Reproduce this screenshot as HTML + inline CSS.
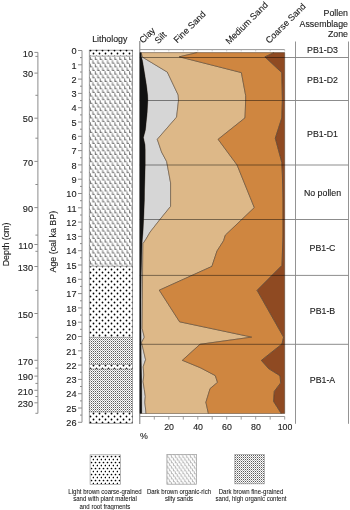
<!DOCTYPE html><html><head><meta charset="utf-8"><style>
html,body{margin:0;padding:0;background:#fff;}
body{width:350px;height:510px;overflow:hidden;position:relative;}
svg{position:absolute;left:0;top:0;will-change:transform;}
text{font-family:"Liberation Sans", sans-serif;fill:#1a1a1a;stroke:#1a1a1a;stroke-width:0.12px;}
</style></head><body>
<svg width="350" height="510" viewBox="0 0 350 510">
<defs>
<pattern id="pdot" patternUnits="userSpaceOnUse" width="6" height="6" x="90" y="50"><circle cx="0.5" cy="0.5" r="0.88" fill="#000"/><circle cx="6.5" cy="0.5" r="0.88" fill="#000"/><circle cx="0.5" cy="6.5" r="0.88" fill="#000"/><circle cx="6.5" cy="6.5" r="0.88" fill="#000"/><circle cx="3.5" cy="3.5" r="0.88" fill="#000"/></pattern>
<pattern id="pdotl" patternUnits="userSpaceOnUse" width="4" height="6" x="90" y="455"><circle cx="1.5" cy="1.5" r="0.85" fill="#000"/><circle cx="3.5" cy="4.5" r="0.85" fill="#000"/></pattern>
<pattern id="pL" patternUnits="userSpaceOnUse" width="4.9" height="7.3" x="89.9" y="56.4"><path d="M-4.40,-7.10 V-4.20 H-2.50 M-4.40,0.20 V3.10 H-2.50 M-4.40,7.50 V10.40 H-2.50 M0.50,-7.10 V-4.20 H2.40 M0.50,0.20 V3.10 H2.40 M0.50,7.50 V10.40 H2.40 M5.40,-7.10 V-4.20 H7.30 M5.40,0.20 V3.10 H7.30 M5.40,7.50 V10.40 H7.30 M-1.95,-3.45 V-0.55 H-0.05 M-1.95,3.85 V6.75 H-0.05 M-1.95,11.15 V14.05 H-0.05 M2.95,-3.45 V-0.55 H4.85 M2.95,3.85 V6.75 H4.85 M2.95,11.15 V14.05 H4.85 M7.85,-3.45 V-0.55 H9.75 M7.85,3.85 V6.75 H9.75 M7.85,11.15 V14.05 H9.75" stroke="#747474" stroke-width="1" fill="none"/></pattern>
<pattern id="pF" patternUnits="userSpaceOnUse" width="2" height="2" x="89" y="337"><rect x="0" y="0" width="1" height="1" fill="#5a5a5a"/><rect x="1" y="1" width="1" height="1" fill="#b0b0b0"/></pattern>
<pattern id="pL2" patternUnits="userSpaceOnUse" width="3.8" height="5.4" x="167.3" y="455"><path d="M0.4,0.2 V2.5 H1.9 M2.3,2.9 V5.2 H3.8 M2.3,-2.5 V-0.2 H3.8 M4.2,0.2 V2.5 H5.7 M0.4,5.6 V7.9 H1.9" stroke="#9a9a9a" stroke-width="0.75" fill="none"/></pattern>
</defs>
<line x1="37.9" y1="52.4" x2="37.9" y2="413.3" stroke="#8c8c8c" stroke-width="1"/>
<line x1="34.4" y1="52.4" x2="37.9" y2="52.4" stroke="#8c8c8c" stroke-width="1"/>
<text x="33" y="53.6" font-size="9.2" text-anchor="end" dominant-baseline="central">10</text>
<line x1="34.4" y1="73.1" x2="37.9" y2="73.1" stroke="#8c8c8c" stroke-width="1"/>
<text x="33" y="74.3" font-size="9.2" text-anchor="end" dominant-baseline="central">30</text>
<line x1="34.4" y1="118.2" x2="37.9" y2="118.2" stroke="#8c8c8c" stroke-width="1"/>
<text x="33" y="119.4" font-size="9.2" text-anchor="end" dominant-baseline="central">50</text>
<line x1="34.4" y1="161.4" x2="37.9" y2="161.4" stroke="#8c8c8c" stroke-width="1"/>
<text x="33" y="162.6" font-size="9.2" text-anchor="end" dominant-baseline="central">70</text>
<line x1="34.4" y1="207.6" x2="37.9" y2="207.6" stroke="#8c8c8c" stroke-width="1"/>
<text x="33" y="208.8" font-size="9.2" text-anchor="end" dominant-baseline="central">90</text>
<line x1="34.4" y1="244.5" x2="37.9" y2="244.5" stroke="#8c8c8c" stroke-width="1"/>
<text x="33" y="245.7" font-size="9.2" text-anchor="end" dominant-baseline="central">110</text>
<line x1="34.4" y1="266.5" x2="37.9" y2="266.5" stroke="#8c8c8c" stroke-width="1"/>
<text x="33" y="267.7" font-size="9.2" text-anchor="end" dominant-baseline="central">130</text>
<line x1="34.4" y1="313.5" x2="37.9" y2="313.5" stroke="#8c8c8c" stroke-width="1"/>
<text x="33" y="314.7" font-size="9.2" text-anchor="end" dominant-baseline="central">150</text>
<line x1="34.4" y1="360.3" x2="37.9" y2="360.3" stroke="#8c8c8c" stroke-width="1"/>
<text x="33" y="361.5" font-size="9.2" text-anchor="end" dominant-baseline="central">170</text>
<line x1="34.4" y1="376.1" x2="37.9" y2="376.1" stroke="#8c8c8c" stroke-width="1"/>
<text x="33" y="377.3" font-size="9.2" text-anchor="end" dominant-baseline="central">190</text>
<line x1="34.4" y1="390.3" x2="37.9" y2="390.3" stroke="#8c8c8c" stroke-width="1"/>
<text x="33" y="391.5" font-size="9.2" text-anchor="end" dominant-baseline="central">210</text>
<line x1="34.4" y1="402.8" x2="37.9" y2="402.8" stroke="#8c8c8c" stroke-width="1"/>
<text x="33" y="404.0" font-size="9.2" text-anchor="end" dominant-baseline="central">230</text>
<line x1="35.4" y1="56.4" x2="37.9" y2="56.4" stroke="#8c8c8c" stroke-width="1"/>
<line x1="35.4" y1="95.3" x2="37.9" y2="95.3" stroke="#8c8c8c" stroke-width="1"/>
<line x1="35.4" y1="138.2" x2="37.9" y2="138.2" stroke="#8c8c8c" stroke-width="1"/>
<line x1="35.4" y1="184.5" x2="37.9" y2="184.5" stroke="#8c8c8c" stroke-width="1"/>
<line x1="35.4" y1="235.1" x2="37.9" y2="235.1" stroke="#8c8c8c" stroke-width="1"/>
<line x1="35.4" y1="251.3" x2="37.9" y2="251.3" stroke="#8c8c8c" stroke-width="1"/>
<line x1="35.4" y1="290.4" x2="37.9" y2="290.4" stroke="#8c8c8c" stroke-width="1"/>
<line x1="35.4" y1="337.4" x2="37.9" y2="337.4" stroke="#8c8c8c" stroke-width="1"/>
<line x1="35.4" y1="368.1" x2="37.9" y2="368.1" stroke="#8c8c8c" stroke-width="1"/>
<line x1="35.4" y1="383.4" x2="37.9" y2="383.4" stroke="#8c8c8c" stroke-width="1"/>
<line x1="35.4" y1="396.5" x2="37.9" y2="396.5" stroke="#8c8c8c" stroke-width="1"/>
<line x1="35.4" y1="413.3" x2="37.9" y2="413.3" stroke="#8c8c8c" stroke-width="1"/>
<text x="0" y="0" font-size="8.9" text-anchor="middle" dominant-baseline="central" transform="translate(5.7,244.4) rotate(-90)">Depth (cm)</text>
<line x1="82.0" y1="50.5" x2="82.0" y2="422.3" stroke="#8c8c8c" stroke-width="1"/>
<line x1="78.0" y1="50.5" x2="82.0" y2="50.5" stroke="#8c8c8c" stroke-width="1"/>
<text x="76.5" y="51.2" font-size="9.2" text-anchor="end" dominant-baseline="central">0</text>
<line x1="80.0" y1="57.6" x2="82.0" y2="57.6" stroke="#8c8c8c" stroke-width="1"/>
<line x1="78.0" y1="64.8" x2="82.0" y2="64.8" stroke="#8c8c8c" stroke-width="1"/>
<text x="76.5" y="65.5" font-size="9.2" text-anchor="end" dominant-baseline="central">1</text>
<line x1="80.0" y1="72.0" x2="82.0" y2="72.0" stroke="#8c8c8c" stroke-width="1"/>
<line x1="78.0" y1="79.1" x2="82.0" y2="79.1" stroke="#8c8c8c" stroke-width="1"/>
<text x="76.5" y="79.8" font-size="9.2" text-anchor="end" dominant-baseline="central">2</text>
<line x1="80.0" y1="86.2" x2="82.0" y2="86.2" stroke="#8c8c8c" stroke-width="1"/>
<line x1="78.0" y1="93.4" x2="82.0" y2="93.4" stroke="#8c8c8c" stroke-width="1"/>
<text x="76.5" y="94.1" font-size="9.2" text-anchor="end" dominant-baseline="central">3</text>
<line x1="80.0" y1="100.6" x2="82.0" y2="100.6" stroke="#8c8c8c" stroke-width="1"/>
<line x1="78.0" y1="107.7" x2="82.0" y2="107.7" stroke="#8c8c8c" stroke-width="1"/>
<text x="76.5" y="108.4" font-size="9.2" text-anchor="end" dominant-baseline="central">4</text>
<line x1="80.0" y1="114.9" x2="82.0" y2="114.9" stroke="#8c8c8c" stroke-width="1"/>
<line x1="78.0" y1="122.0" x2="82.0" y2="122.0" stroke="#8c8c8c" stroke-width="1"/>
<text x="76.5" y="122.7" font-size="9.2" text-anchor="end" dominant-baseline="central">5</text>
<line x1="80.0" y1="129.2" x2="82.0" y2="129.2" stroke="#8c8c8c" stroke-width="1"/>
<line x1="78.0" y1="136.3" x2="82.0" y2="136.3" stroke="#8c8c8c" stroke-width="1"/>
<text x="76.5" y="137.0" font-size="9.2" text-anchor="end" dominant-baseline="central">6</text>
<line x1="80.0" y1="143.5" x2="82.0" y2="143.5" stroke="#8c8c8c" stroke-width="1"/>
<line x1="78.0" y1="150.6" x2="82.0" y2="150.6" stroke="#8c8c8c" stroke-width="1"/>
<text x="76.5" y="151.3" font-size="9.2" text-anchor="end" dominant-baseline="central">7</text>
<line x1="80.0" y1="157.8" x2="82.0" y2="157.8" stroke="#8c8c8c" stroke-width="1"/>
<line x1="78.0" y1="164.9" x2="82.0" y2="164.9" stroke="#8c8c8c" stroke-width="1"/>
<text x="76.5" y="165.6" font-size="9.2" text-anchor="end" dominant-baseline="central">8</text>
<line x1="80.0" y1="172.1" x2="82.0" y2="172.1" stroke="#8c8c8c" stroke-width="1"/>
<line x1="78.0" y1="179.2" x2="82.0" y2="179.2" stroke="#8c8c8c" stroke-width="1"/>
<text x="76.5" y="179.9" font-size="9.2" text-anchor="end" dominant-baseline="central">9</text>
<line x1="80.0" y1="186.4" x2="82.0" y2="186.4" stroke="#8c8c8c" stroke-width="1"/>
<line x1="78.0" y1="193.5" x2="82.0" y2="193.5" stroke="#8c8c8c" stroke-width="1"/>
<text x="76.5" y="194.2" font-size="9.2" text-anchor="end" dominant-baseline="central">10</text>
<line x1="80.0" y1="200.7" x2="82.0" y2="200.7" stroke="#8c8c8c" stroke-width="1"/>
<line x1="78.0" y1="207.8" x2="82.0" y2="207.8" stroke="#8c8c8c" stroke-width="1"/>
<text x="76.5" y="208.5" font-size="9.2" text-anchor="end" dominant-baseline="central">11</text>
<line x1="80.0" y1="215.0" x2="82.0" y2="215.0" stroke="#8c8c8c" stroke-width="1"/>
<line x1="78.0" y1="222.1" x2="82.0" y2="222.1" stroke="#8c8c8c" stroke-width="1"/>
<text x="76.5" y="222.8" font-size="9.2" text-anchor="end" dominant-baseline="central">12</text>
<line x1="80.0" y1="229.3" x2="82.0" y2="229.3" stroke="#8c8c8c" stroke-width="1"/>
<line x1="78.0" y1="236.4" x2="82.0" y2="236.4" stroke="#8c8c8c" stroke-width="1"/>
<text x="76.5" y="237.1" font-size="9.2" text-anchor="end" dominant-baseline="central">13</text>
<line x1="80.0" y1="243.6" x2="82.0" y2="243.6" stroke="#8c8c8c" stroke-width="1"/>
<line x1="78.0" y1="250.7" x2="82.0" y2="250.7" stroke="#8c8c8c" stroke-width="1"/>
<text x="76.5" y="251.4" font-size="9.2" text-anchor="end" dominant-baseline="central">14</text>
<line x1="80.0" y1="257.8" x2="82.0" y2="257.8" stroke="#8c8c8c" stroke-width="1"/>
<line x1="78.0" y1="265.0" x2="82.0" y2="265.0" stroke="#8c8c8c" stroke-width="1"/>
<text x="76.5" y="265.7" font-size="9.2" text-anchor="end" dominant-baseline="central">15</text>
<line x1="80.0" y1="272.1" x2="82.0" y2="272.1" stroke="#8c8c8c" stroke-width="1"/>
<line x1="78.0" y1="279.3" x2="82.0" y2="279.3" stroke="#8c8c8c" stroke-width="1"/>
<text x="76.5" y="280.0" font-size="9.2" text-anchor="end" dominant-baseline="central">16</text>
<line x1="80.0" y1="286.4" x2="82.0" y2="286.4" stroke="#8c8c8c" stroke-width="1"/>
<line x1="78.0" y1="293.6" x2="82.0" y2="293.6" stroke="#8c8c8c" stroke-width="1"/>
<text x="76.5" y="294.3" font-size="9.2" text-anchor="end" dominant-baseline="central">17</text>
<line x1="80.0" y1="300.8" x2="82.0" y2="300.8" stroke="#8c8c8c" stroke-width="1"/>
<line x1="78.0" y1="307.9" x2="82.0" y2="307.9" stroke="#8c8c8c" stroke-width="1"/>
<text x="76.5" y="308.6" font-size="9.2" text-anchor="end" dominant-baseline="central">18</text>
<line x1="80.0" y1="315.1" x2="82.0" y2="315.1" stroke="#8c8c8c" stroke-width="1"/>
<line x1="78.0" y1="322.2" x2="82.0" y2="322.2" stroke="#8c8c8c" stroke-width="1"/>
<text x="76.5" y="322.9" font-size="9.2" text-anchor="end" dominant-baseline="central">19</text>
<line x1="80.0" y1="329.3" x2="82.0" y2="329.3" stroke="#8c8c8c" stroke-width="1"/>
<line x1="78.0" y1="336.5" x2="82.0" y2="336.5" stroke="#8c8c8c" stroke-width="1"/>
<text x="76.5" y="337.2" font-size="9.2" text-anchor="end" dominant-baseline="central">20</text>
<line x1="80.0" y1="343.6" x2="82.0" y2="343.6" stroke="#8c8c8c" stroke-width="1"/>
<line x1="78.0" y1="350.8" x2="82.0" y2="350.8" stroke="#8c8c8c" stroke-width="1"/>
<text x="76.5" y="351.5" font-size="9.2" text-anchor="end" dominant-baseline="central">21</text>
<line x1="80.0" y1="357.9" x2="82.0" y2="357.9" stroke="#8c8c8c" stroke-width="1"/>
<line x1="78.0" y1="365.1" x2="82.0" y2="365.1" stroke="#8c8c8c" stroke-width="1"/>
<text x="76.5" y="365.8" font-size="9.2" text-anchor="end" dominant-baseline="central">22</text>
<line x1="80.0" y1="372.2" x2="82.0" y2="372.2" stroke="#8c8c8c" stroke-width="1"/>
<line x1="78.0" y1="379.4" x2="82.0" y2="379.4" stroke="#8c8c8c" stroke-width="1"/>
<text x="76.5" y="380.1" font-size="9.2" text-anchor="end" dominant-baseline="central">23</text>
<line x1="80.0" y1="386.5" x2="82.0" y2="386.5" stroke="#8c8c8c" stroke-width="1"/>
<line x1="78.0" y1="393.7" x2="82.0" y2="393.7" stroke="#8c8c8c" stroke-width="1"/>
<text x="76.5" y="394.4" font-size="9.2" text-anchor="end" dominant-baseline="central">24</text>
<line x1="80.0" y1="400.9" x2="82.0" y2="400.9" stroke="#8c8c8c" stroke-width="1"/>
<line x1="78.0" y1="408.0" x2="82.0" y2="408.0" stroke="#8c8c8c" stroke-width="1"/>
<text x="76.5" y="408.7" font-size="9.2" text-anchor="end" dominant-baseline="central">25</text>
<line x1="80.0" y1="415.1" x2="82.0" y2="415.1" stroke="#8c8c8c" stroke-width="1"/>
<line x1="78.0" y1="422.3" x2="82.0" y2="422.3" stroke="#8c8c8c" stroke-width="1"/>
<text x="76.5" y="423.0" font-size="9.2" text-anchor="end" dominant-baseline="central">26</text>
<text x="0" y="0" font-size="8.9" text-anchor="middle" dominant-baseline="central" transform="translate(53.3,241.7) rotate(-90)">Age (cal ka BP)</text>
<text x="109.8" y="41.7" font-size="8.8" text-anchor="middle">Lithology</text>
<rect x="89.3" y="50.2" width="43.1" height="373.1" fill="none" stroke="#888" stroke-width="0.8"/>
<rect x="89.3" y="49.6" width="43.1" height="6.4" fill="url(#pdot)"/>
<rect x="89.3" y="56.0" width="43.1" height="210.2" fill="url(#pL)"/>
<rect x="89.3" y="266.2" width="43.1" height="71.1" fill="url(#pdot)"/>
<rect x="89.3" y="337.3" width="43.1" height="27.2" fill="url(#pF)"/>
<rect x="89.3" y="364.5" width="43.1" height="4.5" fill="url(#pdot)"/>
<rect x="89.3" y="369.0" width="43.1" height="43.0" fill="url(#pF)"/>
<rect x="89.3" y="412.0" width="43.1" height="11.3" fill="url(#pdot)"/>
<line x1="89.3" y1="56.0" x2="132.4" y2="56.0" stroke="#888" stroke-width="0.6"/>
<line x1="89.3" y1="266.2" x2="132.4" y2="266.2" stroke="#888" stroke-width="0.6"/>
<line x1="89.3" y1="337.3" x2="132.4" y2="337.3" stroke="#888" stroke-width="0.6"/>
<line x1="89.3" y1="364.5" x2="132.4" y2="364.5" stroke="#888" stroke-width="0.6"/>
<line x1="89.3" y1="369.0" x2="132.4" y2="369.0" stroke="#888" stroke-width="0.6"/>
<line x1="89.3" y1="412.0" x2="132.4" y2="412.0" stroke="#888" stroke-width="0.6"/>
<polygon points="139.8,52.6 139.8,413.5 141.7,413.5 141.6,380.0 141.2,360.0 141.0,330.0 141.0,300.0 141.2,275.0 141.6,258.0 141.9,246.0 142.3,240.0 143.1,230.0 143.8,215.0 144.4,200.0 144.5,190.0 144.9,175.0 145.2,165.0 145.2,150.0 145.0,145.0 143.4,137.6 145.4,130.0 146.2,122.0 147.2,112.0 147.8,100.0 147.6,95.0 146.4,85.0 144.0,70.0 142.3,60.0 141.4,57.2 141.2,52.6" fill="#111111"/>
<polygon points="141.2,52.6 141.4,57.2 142.3,60.0 144.0,70.0 146.4,85.0 147.6,95.0 147.8,100.0 147.2,112.0 146.2,122.0 145.4,130.0 143.4,137.6 145.0,145.0 145.2,150.0 145.2,165.0 144.9,175.0 144.5,190.0 144.4,200.0 143.8,215.0 143.1,230.0 142.3,240.0 141.9,246.0 141.6,258.0 141.2,275.0 141.0,300.0 141.0,330.0 141.2,360.0 141.6,380.0 141.7,413.5 146.0,413.5 145.8,411.0 144.8,402.3 145.3,396.4 144.3,389.5 143.1,381.7 143.8,375.0 143.2,366.8 145.6,359.7 141.6,342.6 144.3,337.2 142.2,328.5 142.4,300.0 142.6,270.0 143.0,243.6 145.9,239.3 150.1,232.1 160.1,219.3 170.6,206.4 170.6,182.9 167.3,165.0 166.6,161.4 161.6,152.1 157.3,139.3 176.6,117.1 178.5,100.5 178.2,95.0 167.3,72.1 142.6,57.2 141.2,52.6" fill="#d6d6d6" stroke="#4a3a2a" stroke-width="0.5"/>
<polygon points="141.2,52.6 142.6,57.2 167.3,72.1 178.2,95.0 178.5,100.5 176.6,117.1 157.3,139.3 161.6,152.1 166.6,161.4 167.3,165.0 170.6,182.9 170.6,206.4 160.1,219.3 150.1,232.1 145.9,239.3 143.0,243.6 142.6,270.0 142.4,300.0 142.2,328.5 144.3,337.2 141.6,342.6 145.6,359.7 143.2,366.8 143.8,375.0 143.1,381.7 144.3,389.5 145.3,396.4 144.8,402.3 145.8,411.0 146.0,413.5 208.4,413.5 205.9,402.3 210.1,388.6 217.5,382.4 215.3,375.6 200.7,367.9 182.4,360.3 200.0,344.3 251.8,337.1 179.6,321.8 159.3,290.2 211.9,266.4 217.0,251.0 223.6,240.7 225.3,235.2 254.3,207.6 237.1,165.0 218.1,139.3 245.0,117.9 245.7,100.0 245.7,95.7 241.4,72.6 179.3,56.8 197.3,52.6" fill="#ddb888" stroke="#4a3a2a" stroke-width="0.5"/>
<polygon points="197.3,52.6 179.3,56.8 241.4,72.6 245.7,95.7 245.7,100.0 245.0,117.9 218.1,139.3 237.1,165.0 254.3,207.6 225.3,235.2 223.6,240.7 217.0,251.0 211.9,266.4 159.3,290.2 179.6,321.8 251.8,337.1 200.0,344.3 182.4,360.3 200.7,367.9 215.3,375.6 217.5,382.4 210.1,388.6 205.9,402.3 208.4,413.5 281.0,413.5 280.7,412.6 273.6,401.4 274.3,391.4 280.7,382.9 280.0,375.7 268.6,368.6 261.4,360.4 282.0,344.0 283.6,337.1 257.1,290.3 282.0,265.3 283.0,235.0 283.0,200.0 282.4,175.0 281.8,162.4 275.3,138.2 281.8,118.0 282.4,99.7 281.8,72.6 264.9,56.9 274.0,52.6" fill="#cf8640" stroke="#4a3a2a" stroke-width="0.5"/>
<polygon points="274.0,52.6 264.9,56.9 281.8,72.6 282.4,99.7 281.8,118.0 275.3,138.2 281.8,162.4 282.4,175.0 283.0,200.0 283.0,235.0 282.0,265.3 257.1,290.3 283.6,337.1 282.0,344.0 261.4,360.4 268.6,368.6 280.0,375.7 280.7,382.9 274.3,391.4 273.6,401.4 280.7,412.6 281.0,413.5 284.7,413.5 284.7,52.6" fill="#8f4a22" stroke="#4a3a2a" stroke-width="0.5"/>
<line x1="139.8" y1="41" x2="139.8" y2="424" stroke="#777" stroke-width="1"/>
<line x1="139.8" y1="49.6" x2="284.7" y2="49.6" stroke="#999" stroke-width="1"/>
<line x1="139.8" y1="416.5" x2="284.7" y2="416.5" stroke="#999" stroke-width="1"/>
<line x1="154.3" y1="49.6" x2="154.3" y2="51.4" stroke="#aaa" stroke-width="0.6"/>
<line x1="154.3" y1="416.5" x2="154.3" y2="419.6" stroke="#888" stroke-width="0.8"/>
<line x1="168.8" y1="49.6" x2="168.8" y2="51.4" stroke="#aaa" stroke-width="0.6"/>
<line x1="168.8" y1="416.5" x2="168.8" y2="419.6" stroke="#888" stroke-width="0.8"/>
<text x="169.1" y="429.9" font-size="8.8" text-anchor="middle">20</text>
<line x1="183.3" y1="49.6" x2="183.3" y2="51.4" stroke="#aaa" stroke-width="0.6"/>
<line x1="183.3" y1="416.5" x2="183.3" y2="419.6" stroke="#888" stroke-width="0.8"/>
<line x1="197.8" y1="49.6" x2="197.8" y2="51.4" stroke="#aaa" stroke-width="0.6"/>
<line x1="197.8" y1="416.5" x2="197.8" y2="419.6" stroke="#888" stroke-width="0.8"/>
<text x="198.1" y="429.9" font-size="8.8" text-anchor="middle">40</text>
<line x1="212.2" y1="49.6" x2="212.2" y2="51.4" stroke="#aaa" stroke-width="0.6"/>
<line x1="212.2" y1="416.5" x2="212.2" y2="419.6" stroke="#888" stroke-width="0.8"/>
<line x1="226.7" y1="49.6" x2="226.7" y2="51.4" stroke="#aaa" stroke-width="0.6"/>
<line x1="226.7" y1="416.5" x2="226.7" y2="419.6" stroke="#888" stroke-width="0.8"/>
<text x="227.0" y="429.9" font-size="8.8" text-anchor="middle">60</text>
<line x1="241.2" y1="49.6" x2="241.2" y2="51.4" stroke="#aaa" stroke-width="0.6"/>
<line x1="241.2" y1="416.5" x2="241.2" y2="419.6" stroke="#888" stroke-width="0.8"/>
<line x1="255.7" y1="49.6" x2="255.7" y2="51.4" stroke="#aaa" stroke-width="0.6"/>
<line x1="255.7" y1="416.5" x2="255.7" y2="419.6" stroke="#888" stroke-width="0.8"/>
<text x="256.0" y="429.9" font-size="8.8" text-anchor="middle">80</text>
<line x1="270.2" y1="49.6" x2="270.2" y2="51.4" stroke="#aaa" stroke-width="0.6"/>
<line x1="270.2" y1="416.5" x2="270.2" y2="419.6" stroke="#888" stroke-width="0.8"/>
<line x1="284.7" y1="49.6" x2="284.7" y2="51.4" stroke="#aaa" stroke-width="0.6"/>
<line x1="284.7" y1="416.5" x2="284.7" y2="419.6" stroke="#888" stroke-width="0.8"/>
<text x="285.0" y="429.9" font-size="8.8" text-anchor="middle">100</text>
<text x="140" y="439" font-size="8.8">%</text>
<text x="0" y="0" font-size="9" transform="translate(142.9,43.8) rotate(-45)">Clay</text>
<text x="0" y="0" font-size="9" transform="translate(158.2,44.2) rotate(-45)">Silt</text>
<text x="0" y="0" font-size="9" transform="translate(177.3,43.6) rotate(-45)">Fine Sand</text>
<text x="0" y="0" font-size="9" transform="translate(229.2,44.8) rotate(-45)">Medium Sand</text>
<text x="0" y="0" font-size="9" transform="translate(269.2,44.1) rotate(-45)">Coarse Sand</text>
<line x1="139.8" y1="57.5" x2="348.5" y2="57.5" stroke="#000" stroke-opacity="0.45" stroke-width="1"/>
<line x1="139.8" y1="100.5" x2="348.5" y2="100.5" stroke="#000" stroke-opacity="0.45" stroke-width="1"/>
<line x1="139.8" y1="165.0" x2="348.5" y2="165.0" stroke="#000" stroke-opacity="0.45" stroke-width="1"/>
<line x1="139.8" y1="219.5" x2="348.5" y2="219.5" stroke="#000" stroke-opacity="0.45" stroke-width="1"/>
<line x1="139.8" y1="275.4" x2="348.5" y2="275.4" stroke="#000" stroke-opacity="0.45" stroke-width="1"/>
<line x1="139.8" y1="344.3" x2="348.5" y2="344.3" stroke="#000" stroke-opacity="0.45" stroke-width="1"/>
<polygon points="139.8,52.6 139.8,413.5 141.7,413.5 141.6,380.0 141.2,360.0 141.0,330.0 141.0,300.0 141.2,275.0 141.6,258.0 141.9,246.0 142.3,240.0 143.1,230.0 143.8,215.0 144.4,200.0 144.5,190.0 144.9,175.0 145.2,165.0 145.2,150.0 145.0,145.0 143.4,137.6 145.4,130.0 146.2,122.0 147.2,112.0 147.8,100.0 147.6,95.0 146.4,85.0 144.0,70.0 142.3,60.0 141.4,57.2 141.2,52.6" fill="#111111"/>
<line x1="295.5" y1="41.5" x2="295.5" y2="423.8" stroke="#888" stroke-width="0.9"/>
<line x1="348.5" y1="41.5" x2="348.5" y2="423.8" stroke="#888" stroke-width="0.9"/>
<text x="348" y="16.2" font-size="8.8" text-anchor="end">Pollen</text>
<text x="348" y="26.5" font-size="8.8" text-anchor="end">Assemblage</text>
<text x="348" y="37.3" font-size="8.8" text-anchor="end">Zone</text>
<text x="322.5" y="50.4" font-size="8.8" text-anchor="middle" dominant-baseline="central">PB1-D3</text>
<text x="322.5" y="79.8" font-size="8.8" text-anchor="middle" dominant-baseline="central">PB1-D2</text>
<text x="322.5" y="133.5" font-size="8.8" text-anchor="middle" dominant-baseline="central">PB1-D1</text>
<text x="322.5" y="193.1" font-size="8.8" text-anchor="middle" dominant-baseline="central">No pollen</text>
<text x="322.5" y="248.3" font-size="8.8" text-anchor="middle" dominant-baseline="central">PB1-C</text>
<text x="322.5" y="310.8" font-size="8.8" text-anchor="middle" dominant-baseline="central">PB1-B</text>
<text x="322.5" y="379.9" font-size="8.8" text-anchor="middle" dominant-baseline="central">PB1-A</text>
<rect x="90.1" y="454.8" width="30.3" height="29.5" fill="url(#pdotl)" stroke="#999" stroke-width="0.7"/>
<rect x="166.9" y="454.6" width="29.7" height="29.6" fill="url(#pL2)" stroke="#999" stroke-width="0.7"/>
<rect x="234.8" y="454.6" width="29.5" height="29.2" fill="url(#pF)" stroke="#999" stroke-width="0.7"/>
<text x="105.0" y="491.6" font-size="6.5" text-anchor="middle" dominant-baseline="central" textLength="73.31" lengthAdjust="spacingAndGlyphs" style="fill:#111;stroke:#111;stroke-width:0.05px">Light brown coarse-grained</text>
<text x="105.0" y="498.9" font-size="6.5" text-anchor="middle" dominant-baseline="central" textLength="63.55" lengthAdjust="spacingAndGlyphs" style="fill:#111;stroke:#111;stroke-width:0.05px">sand with plant material</text>
<text x="105.0" y="506.1" font-size="6.5" text-anchor="middle" dominant-baseline="central" textLength="50.78" lengthAdjust="spacingAndGlyphs" style="fill:#111;stroke:#111;stroke-width:0.05px">and root fragments</text>
<text x="179.0" y="491.6" font-size="6.5" text-anchor="middle" dominant-baseline="central" textLength="64.22" lengthAdjust="spacingAndGlyphs" style="fill:#111;stroke:#111;stroke-width:0.05px">Dark brown organic-rich</text>
<text x="179.0" y="498.9" font-size="6.5" text-anchor="middle" dominant-baseline="central" textLength="28.24" lengthAdjust="spacingAndGlyphs" style="fill:#111;stroke:#111;stroke-width:0.05px">silty sands</text>
<text x="251.0" y="491.6" font-size="6.5" text-anchor="middle" dominant-baseline="central" textLength="64.56" lengthAdjust="spacingAndGlyphs" style="fill:#111;stroke:#111;stroke-width:0.05px">Dark brown fine-grained</text>
<text x="251.0" y="498.9" font-size="6.5" text-anchor="middle" dominant-baseline="central" textLength="70.96" lengthAdjust="spacingAndGlyphs" style="fill:#111;stroke:#111;stroke-width:0.05px">sand, high organic content</text>
</svg></body></html>
